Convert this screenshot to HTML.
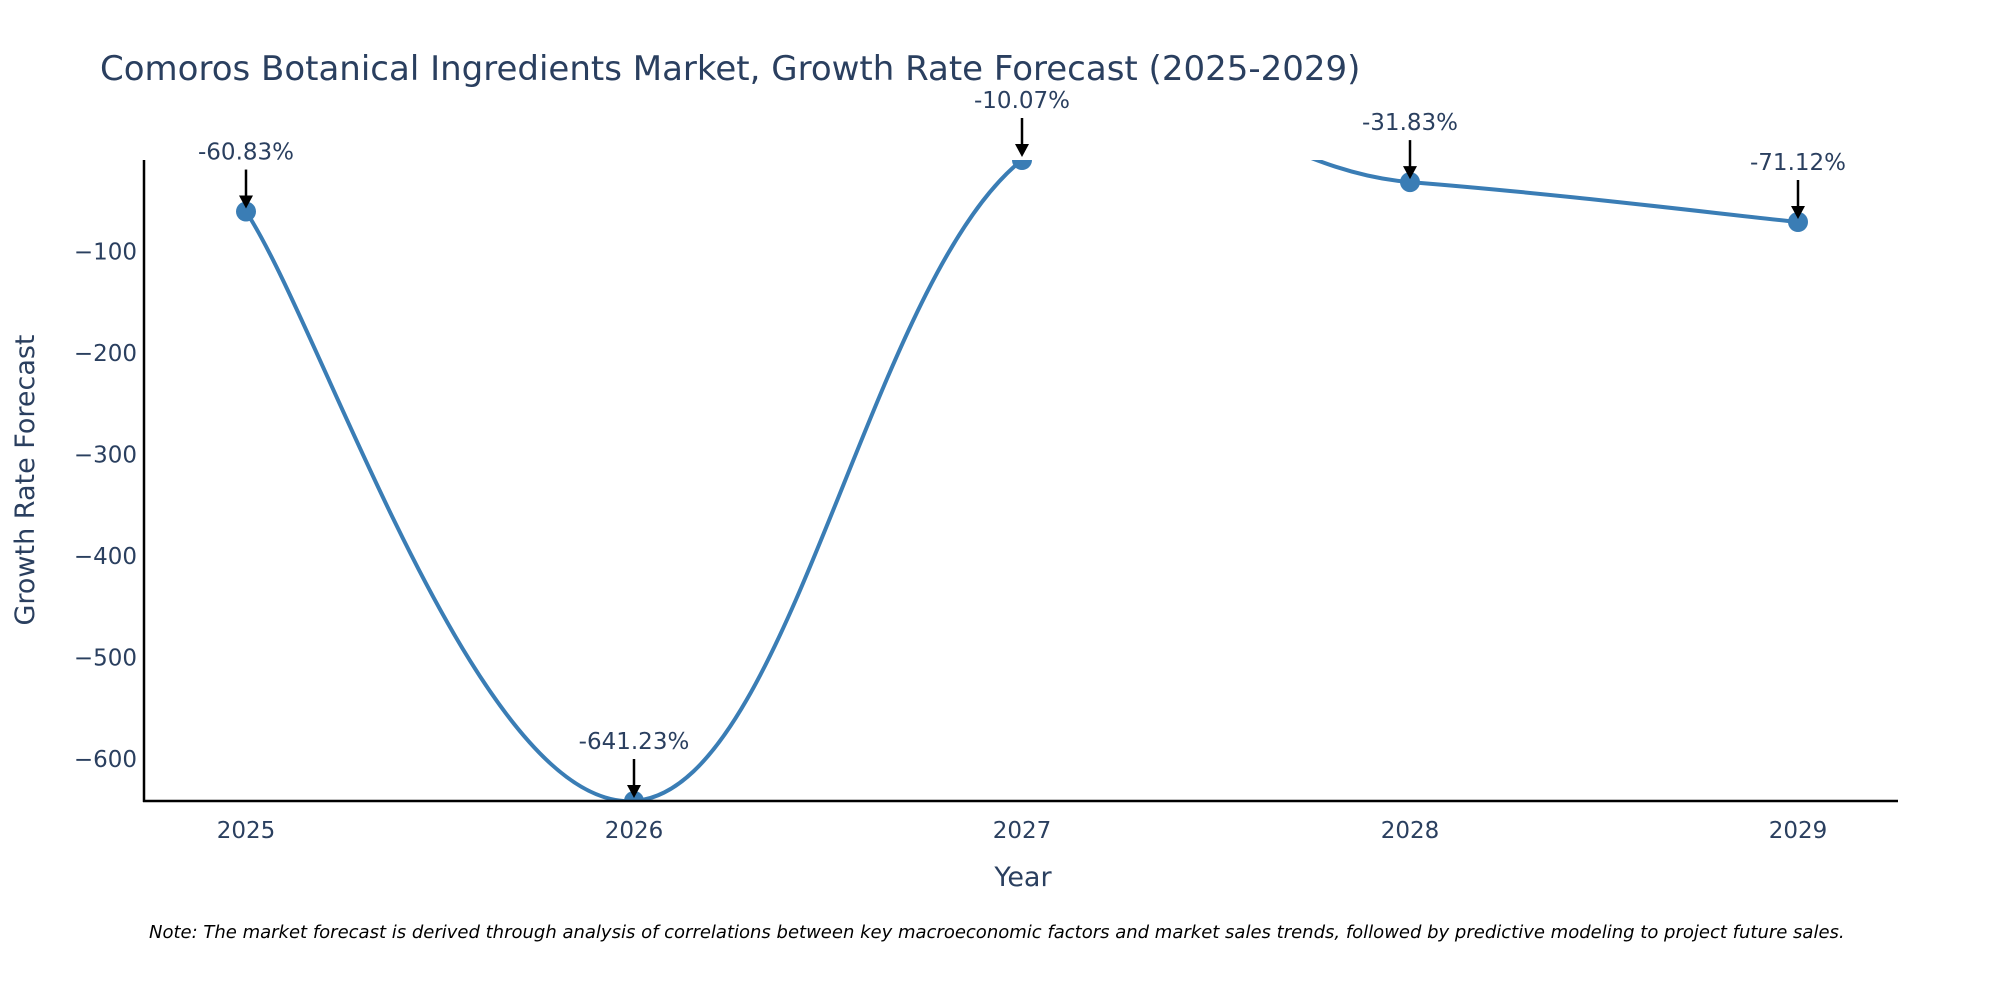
<!DOCTYPE html>
<html><head><meta charset="utf-8"><style>
body{margin:0;background:#fff;}
svg{display:block;font-family:"DejaVu Sans","Liberation Sans",sans-serif;}
</style></head><body>
<svg id="chart" width="2000" height="1000">
<defs><clipPath id="plotclip"><rect x="144" y="160" width="1754" height="641"/></clipPath></defs>
<text x="100" y="80" font-size="34" fill="#2a3f5f">Comoros Botanical Ingredients Market, Growth Rate Forecast (2025-2029)</text>
<g id="yticks"></g><g id="xticks"></g>
<g clip-path="url(#plotclip)"><path id="line" fill="none" stroke="#3a7db5" stroke-width="4"/><g id="markers"></g></g>
<g id="annots"></g>
<line x1="144" y1="160" x2="144" y2="802" stroke="#000" stroke-width="2.5"/>
<line x1="143" y1="801" x2="1898" y2="801" stroke="#000" stroke-width="2.5"/>
<text x="1023" y="886" font-size="27" fill="#2a3f5f" text-anchor="middle">Year</text>
<text transform="translate(34,480) rotate(-90)" font-size="27" fill="#2a3f5f" text-anchor="middle">Growth Rate Forecast</text>
<text x="149" y="938" font-size="18" font-style="italic" fill="#000">Note: The market forecast is derived through analysis of correlations between key macroeconomic factors and market sales trends, followed by predictive modeling to project future sales.</text>
</svg>
<script>
const years=[2025,2026,2027,2028,2029];
const values=[-60.83,-641.23,-10.07,-31.83,-71.12];
const labels=["-60.83%","-641.23%","-10.07%","-31.83%","-71.12%"];
const yTicks=[-100,-200,-300,-400,-500,-600];
const NS="http://www.w3.org/2000/svg";
const yMin=-641.23,yMax=-10.07;
function X(v){return 246+(v-2025)*388;}
function Y(v){return 160+(yMax-v)/(yMax-yMin)*641;}
function mk(t,a,p){const e=document.createElementNS(NS,t);for(const k in a)e.setAttribute(k,a[k]);p.appendChild(e);return e;}
const yt=document.getElementById('yticks');
yTicks.forEach(v=>{const t=mk('text',{x:137,y:Y(v)+8,'font-size':23,fill:'#2a3f5f','text-anchor':'end'},yt);


t.textContent='\u2212'+Math.abs(v);});
const xt=document.getElementById('xticks');
years.forEach(v=>{const t=mk('text',{x:X(v),y:838,'font-size':23,fill:'#2a3f5f','text-anchor':'middle'},xt);


t.textContent=v;});
const pts=years.map((y,i)=>[X(y),Y(values[i])]);
let d='M'+pts[0][0]+','+pts[0][1];
for(let i=0;i<pts.length-1;i++){const p0=pts[Math.max(0,i-1)],p1=pts[i],p2=pts[i+1],p3=pts[Math.min(pts.length-1,i+2)];
const c1=[p1[0]+(p2[0]-p0[0])/5,p1[1]+(p2[1]-p0[1])/5],c2=[p2[0]-(p3[0]-p1[0])/5,p2[1]-(p3[1]-p1[1])/5];
d+=' C'+c1+' '+c2+' '+p2;}
document.getElementById('line').setAttribute('d',d);
const mg=document.getElementById('markers'),ag=document.getElementById('annots');
pts.forEach((p,i)=>{const c=mk('circle',{cx:p[0],cy:p[1],r:10,fill:'#3a7db5'},mg);


const g=mk('g',{},ag);


mk('line',{x1:p[0],y1:p[1]-42,x2:p[0],y2:p[1]-14,stroke:'#000','stroke-width':2.5},g);
mk('polygon',{points:`${p[0]-7},${p[1]-16} ${p[0]+7},${p[1]-16} ${p[0]},${p[1]-3}`,fill:'#000'},g);
const t=mk('text',{x:p[0],y:p[1]-52,'font-size':23,fill:'#2a3f5f','text-anchor':'middle'},g);
t.textContent=labels[i];});
</script>
</body></html>
